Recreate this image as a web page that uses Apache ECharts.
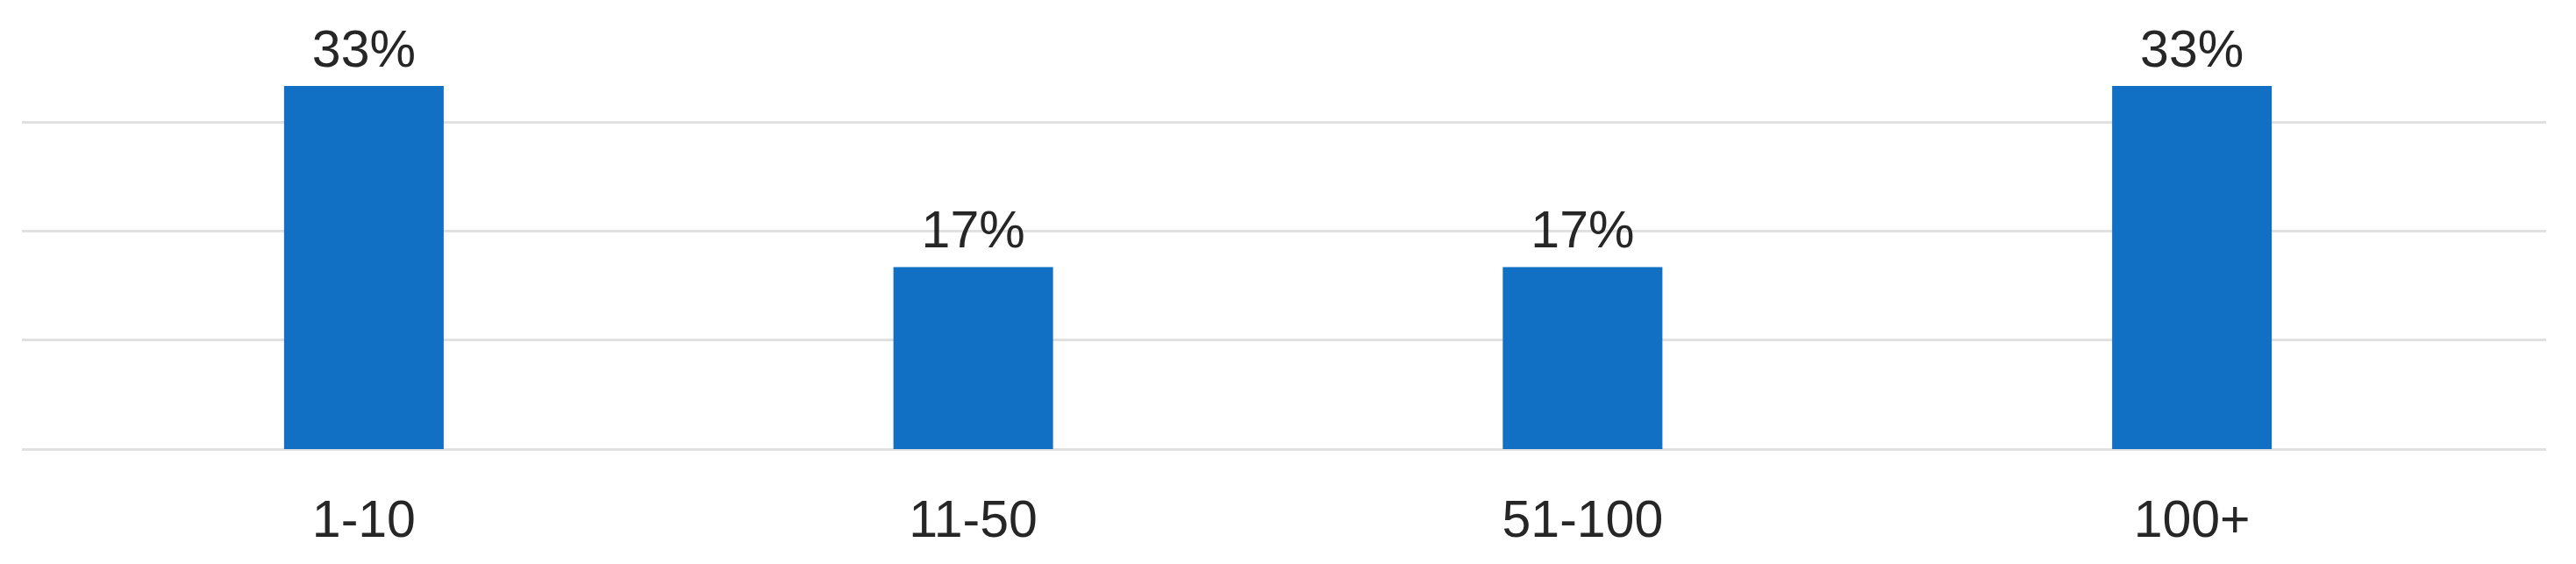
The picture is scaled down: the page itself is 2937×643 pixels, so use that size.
<!DOCTYPE html>
<html>
<head>
<meta charset="utf-8">
<script src="https://cdn.jsdelivr.net/npm/echarts@6/dist/echarts.min.js"></script>
<style>
html,body{margin:0;padding:0;background:#fff;}
#chart{width:2937px;height:643px;}
</style>
</head>
<body>
<div id="chart"></div>
<script>
const categories = ['1-10', '11-50', '51-100', '100+'];
const shares = [33.3, 16.7, 16.7, 33.3];
const gridTicks = [0, 10, 20, 30];

const chart = echarts.init(document.getElementById('chart'), null, {renderer: 'canvas'});
const font = '"Liberation Sans", Arial, sans-serif';
const option = {
  backgroundColor: '#ffffff',
  animation: false,
  grid: [
    {left: 25, right: 34, top: 139, bottom: 131},
    {left: 67.5, right: 90.5, top: 14.7, bottom: 131}
  ],
  xAxis: [
    {gridIndex: 0, type: 'value', min: 0, max: 1, show: false},
    {
      gridIndex: 1, type: 'category', data: categories,
      axisLine: {show: false}, axisTick: {show: false},
      axisLabel: {color: '#262626', fontSize: 59, fontFamily: font, margin: 54}
    }
  ],
  yAxis: [
    {
      gridIndex: 0, type: 'value', min: gridTicks[0], max: gridTicks[gridTicks.length - 1], interval: 10,
      axisLine: {show: false}, axisTick: {show: false}, axisLabel: {show: false},
      splitLine: {show: true, lineStyle: {color: '#e1e1e1', width: 3}}
    },
    {
      gridIndex: 1, type: 'value', min: 0, max: 40,
      axisLine: {show: false}, axisTick: {show: false}, axisLabel: {show: false},
      splitLine: {show: false}
    }
  ],
  series: [
    {
      type: 'bar', xAxisIndex: 1, yAxisIndex: 1,
      data: shares, barWidth: 182,
      itemStyle: {color: '#1170c4'},
      label: {
        show: true, position: 'top', distance: 9,
        color: '#262626', fontSize: 59, fontFamily: font,
        formatter: p => Math.round(p.value) + '%'
      }
    }
  ]
};
chart.setOption(option);
</script>
</body>
</html>
